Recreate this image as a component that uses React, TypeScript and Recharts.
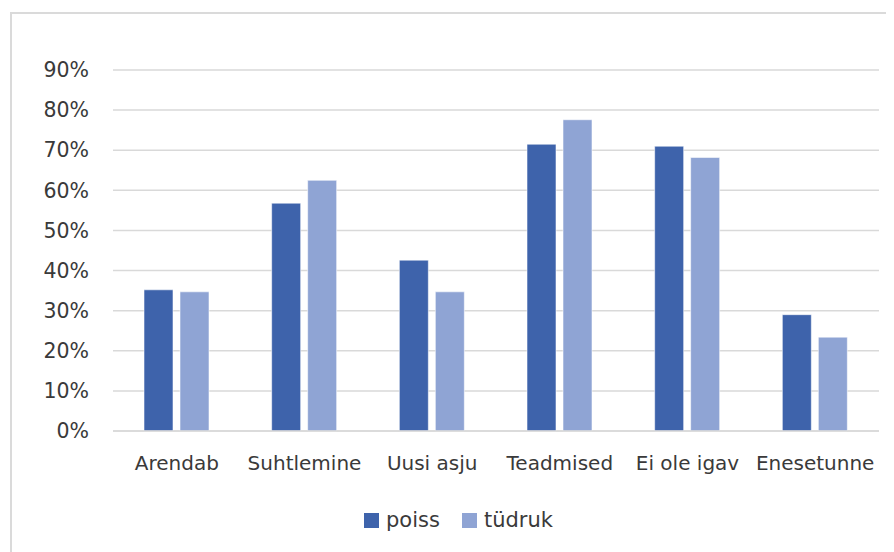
import React from "react";
import { BarChart, Bar, XAxis, YAxis, CartesianGrid, Legend } from "recharts";

// Survey answers by gender, share of respondents (%)
const categories = ["Arendab", "Suhtlemine", "Uusi asju", "Teadmised", "Ei ole igav", "Enesetunne"];
const poiss = [35.2, 56.8, 42.6, 71.5, 71.0, 29.0];
const tudruk = [34.7, 62.5, 34.7, 77.6, 68.2, 23.4];
const yTicks = [0, 10, 20, 30, 40, 50, 60, 70, 80, 90];

const seriesNames = { poiss: "poiss", tudruk: "tüdruk" };
const colors = { poiss: "#3E63AB", tudruk: "#8FA4D4" };

const data = categories.map((name, i) => ({ name, poiss: poiss[i], tudruk: tudruk[i] }));

const FONT = "'DejaVu Sans', sans-serif";
const TEXT = "#3a3a3a";

const LegendContent = (props: any) => {
  const items = props.payload || [];
  return (
    <div style={{ display: "flex", alignItems: "center", fontFamily: FONT, fontSize: 21, color: TEXT }}>
      {items.map((it: any, i: number) => (
        <div key={i} style={{ display: "flex", alignItems: "center", marginRight: 22 }}>
          <div style={{ width: 15, height: 15, background: it.color, marginRight: 7 }} />
          <span style={{ lineHeight: "24px" }}>{it.value}</span>
        </div>
      ))}
    </div>
  );
};

export default function App() {
  return (
    <div style={{ position: "relative", width: 886, height: 544, overflow: "hidden" }}>
      <div
        style={{
          position: "absolute",
          left: 2,
          top: 4,
          width: 950,
          height: 700,
          border: "2px solid #dadada",
          boxSizing: "border-box",
          background: "#fff",
        }}
      />
      <div style={{ position: "absolute", left: 0, top: 0 }}>
        <BarChart
          width={886}
          height={544}
          data={data}
          margin={{ top: 62, right: 15, bottom: 0, left: 0 }}
          barSize={29}
          barGap={7}
        >
          <CartesianGrid vertical={false} stroke="#d9d9d9" strokeWidth={1.5} />
          <XAxis
            dataKey="name"
            height={97}
            tickLine={false}
            tickSize={0}
            tickMargin={25}
            axisLine={{ stroke: "#d9d9d9", strokeWidth: 1.5 }}
            interval={0}
            tick={{ fontFamily: FONT, fontSize: 20, fill: TEXT }}
          />
          <YAxis
            width={105}
            domain={[0, 90]}
            ticks={yTicks}
            tickFormatter={(v: number) => `${v}%`}
            axisLine={false}
            tickLine={false}
            tickSize={0}
            tickMargin={24}
            tick={{ fontFamily: FONT, fontSize: 20.5, fill: TEXT }}
          />
          <Legend
            content={<LegendContent />}
            wrapperStyle={{ top: 500, left: 356, width: "auto" }}
          />
          <Bar
            dataKey="poiss"
            name={seriesNames.poiss}
            fill={colors.poiss}
            stroke="rgba(255,255,255,0.55)"
            strokeWidth={1}
            isAnimationActive={false}
          />
          <Bar
            dataKey="tudruk"
            name={seriesNames.tudruk}
            fill={colors.tudruk}
            stroke="rgba(255,255,255,0.55)"
            strokeWidth={1}
            isAnimationActive={false}
          />
        </BarChart>
      </div>
    </div>
  );
}
